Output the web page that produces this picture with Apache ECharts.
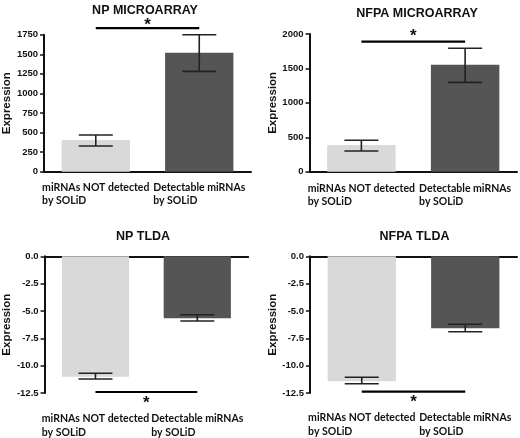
<!DOCTYPE html>
<html>
<head>
<meta charset="utf-8">
<script src="https://cdn.jsdelivr.net/npm/echarts@6/dist/echarts.min.js"></script>
<style>
html,body{margin:0;padding:0;background:#fff;}
#c{width:520px;height:438px;}
</style>
</head>
<body>
<div id="c"></div>
<script>
// ---- data ----
const categories = ['miRNAs NOT detected\nby SOLiD', 'Detectable miRNAs\nby SOLiD'];
const titles = ['NP MICROARRAY', 'NFPA MICROARRAY', 'NP TLDA', 'NFPA TLDA'];

const npMicroMean = [405, 1520];
const npMicroLow = [328, 1282];
const npMicroHigh = [469, 1750];

const nfpaMicroMean = [388, 1554];
const nfpaMicroLow = [301, 1298];
const nfpaMicroHigh = [456, 1792];

const npTldaMean = [-11.01, -5.67];
const npTldaLow = [-11.22, -5.92];
const npTldaHigh = [-10.70, -5.34];

const nfpaTldaMean = [-11.43, -6.58];
const nfpaTldaLow = [-11.65, -6.90];
const nfpaTldaHigh = [-11.06, -6.22];

// significance bar level and star level (value units)
const sigLine = [1835, 1888, -12.41, -12.38];
const sigStar = [1925, 2029, -13.05, -12.96];

const yMin = [0, 0, -12.5, -12.5];
const yMax = [1750, 2000, 0, 0];
const yInterval = [250, 500, 2.5, 2.5];

// ---- layout / style ----
const grids = [
  {left: 40, top: 34.7, width: 211, height: 137},
  {left: 309.5, top: 34, width: 207.5, height: 137.7},
  {left: 42.7, top: 256.3, width: 205.5, height: 136.7},
  {left: 310, top: 256.3, width: 207, height: 136.7}
];
const titlePos = [
  {x: 145, y: 4}, {x: 417, y: 7}, {x: 143, y: 230}, {x: 414.5, y: 230}
];
const nameGaps = [25, 26, 29, 27];
const labelMargins = [9, 10, 19, 18];
const barColors = ['#d9d9d9', '#555555'];
const AX = '#111';
const sansB = 'Liberation Sans';
const starDy = 4;

const means = [npMicroMean, nfpaMicroMean, npTldaMean, nfpaTldaMean];
const lows = [npMicroLow, nfpaMicroLow, npTldaLow, nfpaTldaLow];
const highs = [npMicroHigh, nfpaMicroHigh, npTldaHigh, nfpaTldaHigh];

const option = {
  animation: false,
  backgroundColor: '#fff',
  title: titles.map((t, i) => ({
    text: t, left: titlePos[i].x, top: titlePos[i].y, textAlign: 'center', padding: 0,
    textStyle: {fontFamily: sansB, fontWeight: 'bold', fontSize: 12.5, color: '#111'}
  })),
  grid: grids.map(g => Object.assign({containLabel: false}, g)),
  xAxis: [],
  yAxis: [],
  series: []
};

for (let i = 0; i < 4; i++) {
  const tlda = i >= 2;
  option.xAxis.push({
    type: 'category', gridIndex: i, data: categories, position: 'bottom',
    axisLine: {show: !tlda, onZero: false, lineStyle: {color: AX, width: 2}},
    axisTick: {show: false},
    axisLabel: {
      interval: 0, margin: labelMargins[i],
      formatter: v => '{a|' + v + '}',
      rich: {a: {align: 'left', fontFamily: 'Lato', fontWeight: 'bold', fontSize: 10.5, lineHeight: 13.5, color: '#111'}}
    }
  });
  option.yAxis.push({
    type: 'value', gridIndex: i, min: yMin[i], max: yMax[i], interval: yInterval[i],
    name: 'Expression', nameLocation: 'middle', nameGap: nameGaps[i],
    nameTextStyle: {fontFamily: sansB, fontWeight: 'bold', fontSize: 11.5, color: '#111'},
    axisLine: {show: true, onZero: false, lineStyle: {color: AX, width: 2}},
    axisTick: {show: true, length: 4, lineStyle: {color: AX, width: 1.5}},
    splitLine: {show: false},
    axisLabel: {
      margin: 6, fontFamily: sansB, fontWeight: 'bold', fontSize: 9.5, color: '#111',
      formatter: tlda ? (v => v.toFixed(1)) : (v => String(v))
    }
  });
}
// extra top axis line for TLDA panels
for (let i = 2; i < 4; i++) {
  option.xAxis.push({
    type: 'category', gridIndex: i, data: categories, position: 'top',
    axisLine: {show: true, onZero: false, lineStyle: {color: AX, width: 2}},
    axisTick: {show: false}, axisLabel: {show: false}
  });
}

for (let i = 0; i < 4; i++) {
  option.series.push({
    type: 'bar', xAxisIndex: i, yAxisIndex: i, barWidth: '66%', z: 2,
    data: means[i].map((v, k) => ({value: v, itemStyle: {color: barColors[k]}}))
  });
  option.series.push({
    type: 'custom', xAxisIndex: i, yAxisIndex: i, clip: false, z: 5,
    data: means[i].map((v, k) => [k, lows[i][k], highs[i][k]]),
    encode: {x: 0, y: [1, 2]},
    renderItem: function (params, api) {
      const x = api.value(0);
      const top = api.coord([x, api.value(2)]);
      const bot = api.coord([x, api.value(1)]);
      const hw = 17;
      const st = {stroke: '#222', lineWidth: 1.6};
      return {type: 'group', children: [
        {type: 'line', shape: {x1: top[0], y1: top[1], x2: bot[0], y2: bot[1]}, style: st},
        {type: 'line', shape: {x1: top[0] - hw, y1: top[1], x2: top[0] + hw, y2: top[1]}, style: st},
        {type: 'line', shape: {x1: bot[0] - hw, y1: bot[1], x2: bot[0] + hw, y2: bot[1]}, style: st}
      ]};
    }
  });
  option.series.push({
    type: 'custom', xAxisIndex: i, yAxisIndex: i, clip: false, z: 5,
    data: [[0, sigLine[i], sigStar[i]]],
    encode: {x: 0, y: 1},
    renderItem: function (params, api) {
      const a = api.coord([0, api.value(1)]);
      const b = api.coord([1, api.value(1)]);
      const s = api.coord([0, api.value(2)]);
      const mx = (a[0] + b[0]) / 2;
      return {type: 'group', children: [
        {type: 'line', shape: {x1: a[0], y1: a[1], x2: b[0], y2: b[1]}, style: {stroke: '#000', lineWidth: 2.2}},
        {type: 'text', style: {text: '*', x: mx, y: s[1] + starDy, align: 'center', verticalAlign: 'middle',
          font: 'bold 17px "Liberation Sans"', fill: '#111'}}
      ]};
    }
  });
}

const chart = echarts.init(document.getElementById('c'), null, {renderer: 'canvas'});
chart.setOption(option);
</script>
</body>
</html>
